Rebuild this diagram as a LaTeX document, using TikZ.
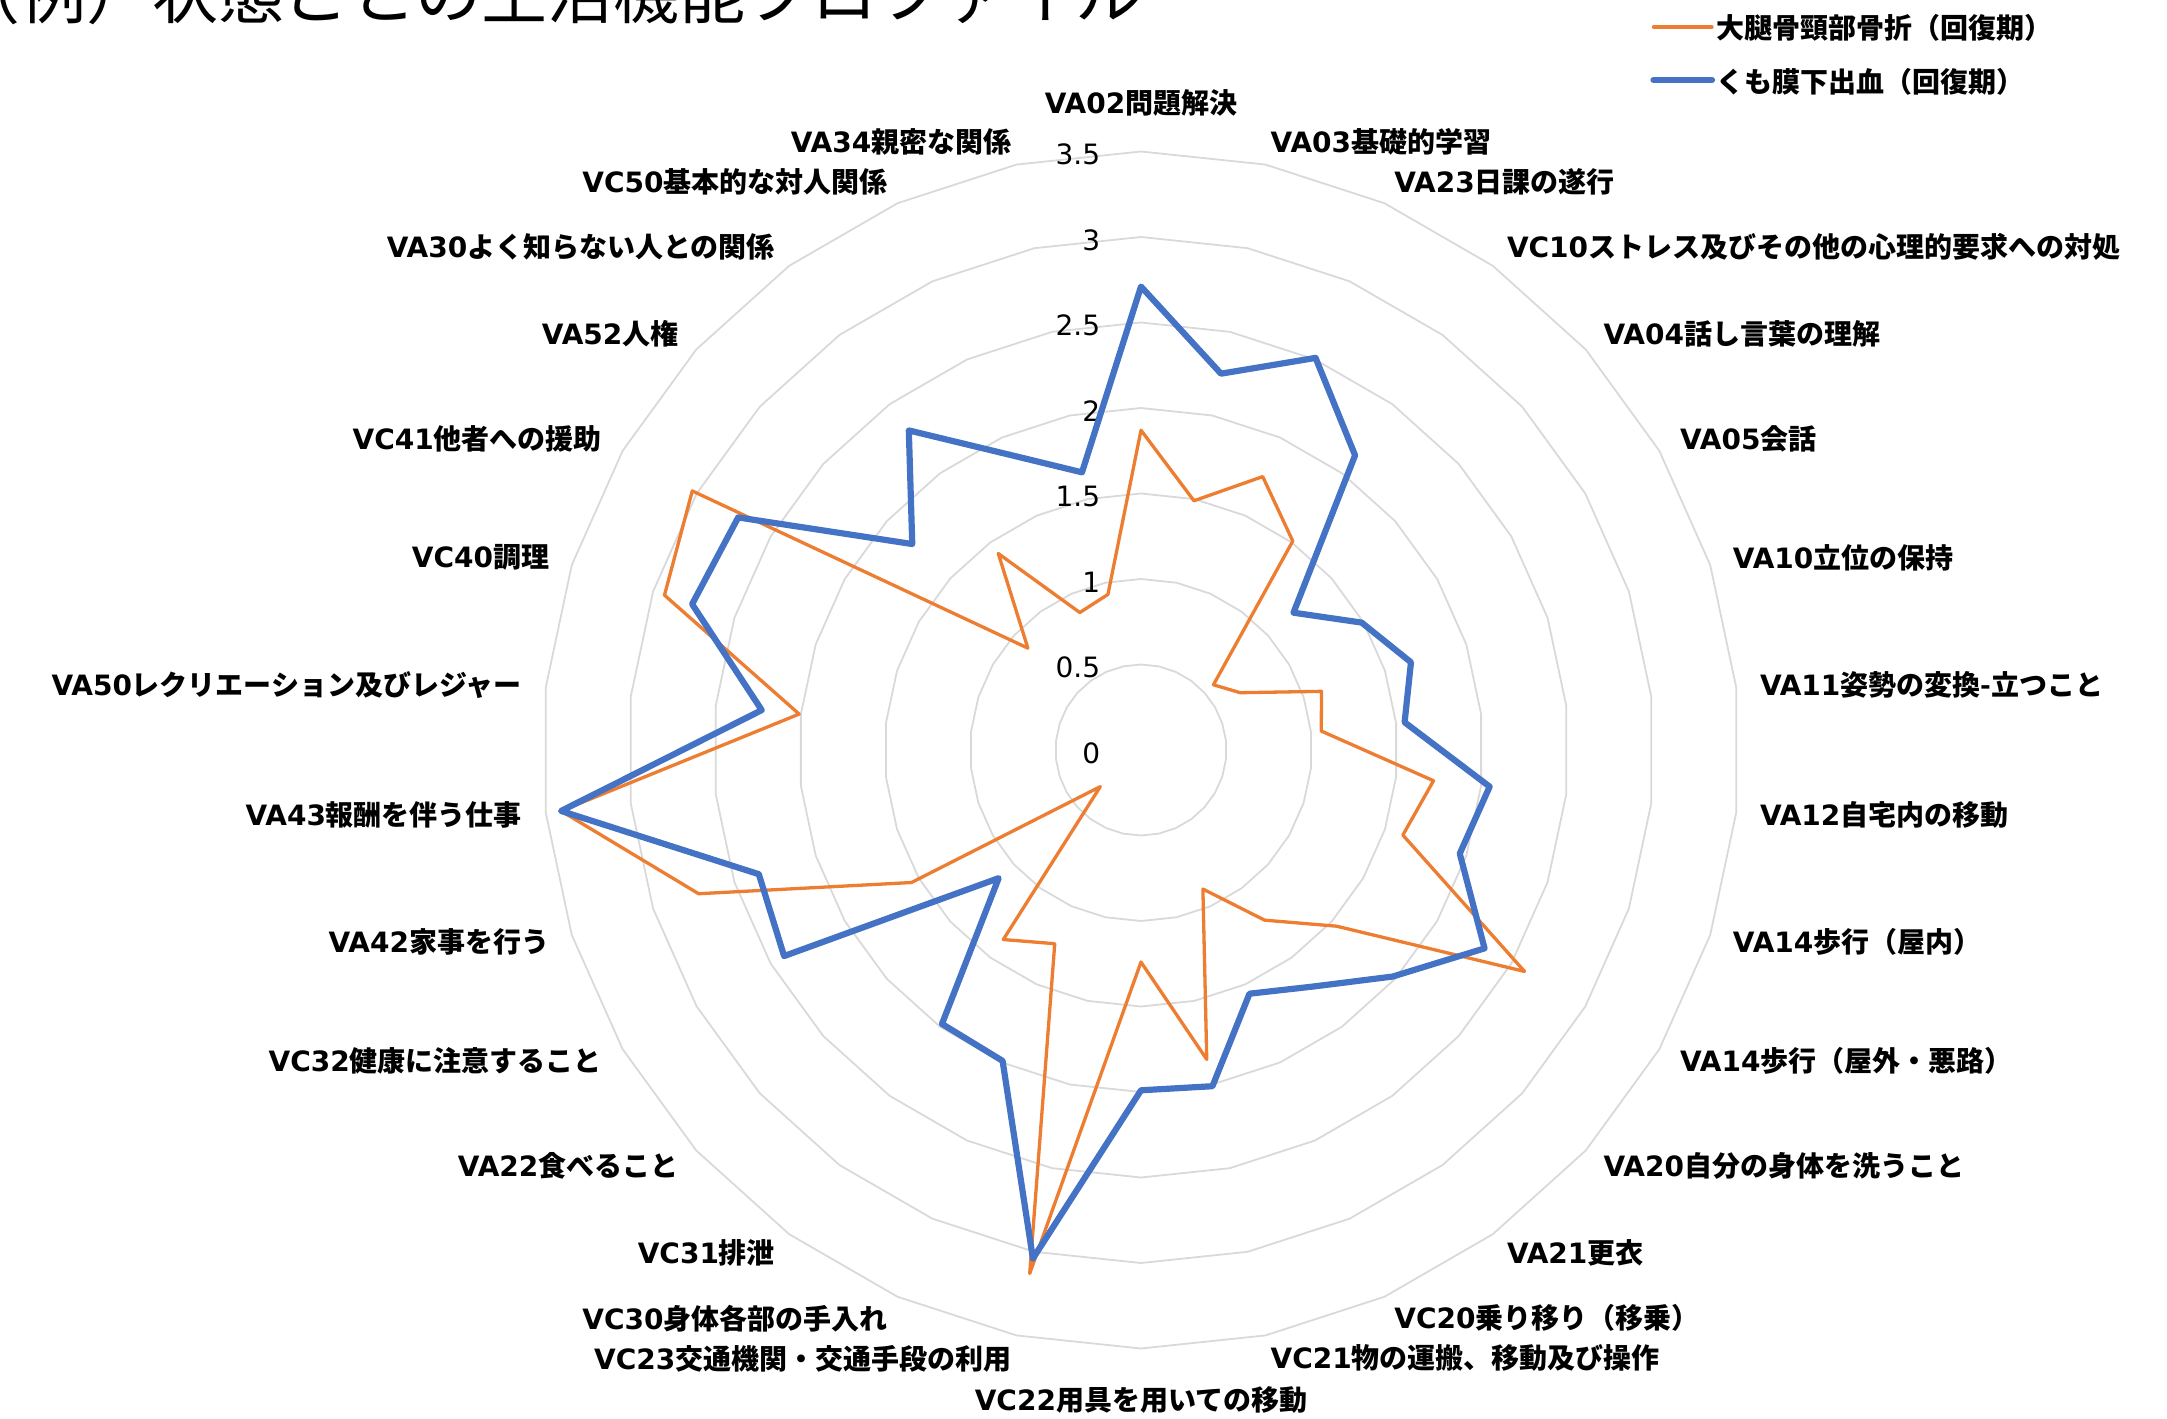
\documentclass[tikz,border=0pt]{standalone}
\usepackage{fontspec}
\setmainfont{Noto Sans CJK JP}
\newfontfamily\deja{DejaVu Sans}
\definecolor{serA}{HTML}{ED7D31}
\definecolor{serB}{HTML}{4472C4}
\definecolor{gridc}{HTML}{D9D9D9}
\newcommand\lbl[2]{{\deja #1}#2}
\tikzset{
  ringline/.style={draw=gridc, line width=0.9pt},
  orangeser/.style={draw=serA, line width=1.65pt, line join=round, line cap=round},
  blueser/.style={draw=serB, line width=3.1pt, line join=round, line cap=round},
  axlab/.style={inner sep=0pt, font=\bfseries\fontsize{14}{16}\selectfont},
  ticklab/.style={inner sep=0pt, anchor=east, font=\deja\fontsize{14}{16}\selectfont},
  titlelab/.style={inner sep=0pt, anchor=base west, font=\fontsize{33}{36}\selectfont},
}
\begin{document}
\begin{tikzpicture}
\useasboundingbox (-570.5pt,-334pt) rectangle (513pt,375pt);
% grid rings
\foreach \k in {1,...,7} {
  \draw[ringline] (90:{\k*0.5*85.5pt}) foreach \j in {1,...,29} { -- ({90-12*\j}:{\k*0.5*85.5pt}) } -- cycle;
}
% tick labels
\foreach \tv [count=\i from 0] in {0,0.5,1,1.5,2,2.5,3,3.5} {
  \node[ticklab] (t\i) at (-20.25pt, {\tv*85.5pt - 1.5pt}) {\tv};
}
% series: orange
\draw[orangeser] (90:{1.87*85.5pt}) foreach \v [count=\j] in {1.49,1.75,1.51,0.57,0.67,1.11,1.06,1.72,1.61,2.59,1.54,1.23,0.89,1.85,1.24,3.13,1.24,1.37,0.32,1.55,2.72,3.41,2.01,2.93,3.03,0.89,1.42,0.88,0.93} { -- ({90-12*\j}:{\v*85.5pt}) } -- cycle;
% series: blue
\draw[blueser] (90:{2.71*85.5pt}) foreach \v [count=\j] in {2.25,2.51,2.13,1.20,1.49,1.66,1.55,2.05,1.96,2.32,1.98,1.71,1.56,2.01,1.99,3.04,1.99,1.98,1.12,2.41,2.35,3.41,2.23,2.76,2.72,1.80,2.31,1.89,1.66} { -- ({90-12*\j}:{\v*85.5pt}) } -- cycle;
% axis labels
\node[axlab, anchor=center] (l0) at (0pt,323.5pt) {\lbl{VA02}{問題解決}};
\node[axlab, anchor=west] (l1) at (78:311pt) {\lbl{VA03}{基礎的学習}};
\node[axlab, anchor=west] (l2) at (66:311pt) {\lbl{VA23}{日課の遂行}};
\node[axlab, anchor=west] (l3) at (54:311pt) {\lbl{VC10}{ストレス及びその他の心理的要求への対処}};
\node[axlab, anchor=west] (l4) at (42:311pt) {\lbl{VA04}{話し言葉の理解}};
\node[axlab, anchor=west] (l5) at (30:311pt) {\lbl{VA05}{会話}};
\node[axlab, anchor=west] (l6) at (18:311pt) {\lbl{VA10}{立位の保持}};
\node[axlab, anchor=west] (l7) at (6:311pt) {\lbl{VA11}{姿勢の変換-立つこと}};
\node[axlab, anchor=west] (l8) at (-6:311pt) {\lbl{VA12}{自宅内の移動}};
\node[axlab, anchor=west] (l9) at (-18:311pt) {\lbl{VA14}{歩行（屋内）}};
\node[axlab, anchor=west] (l10) at (-30:311pt) {\lbl{VA14}{歩行（屋外・悪路）}};
\node[axlab, anchor=west] (l11) at (-42:311pt) {\lbl{VA20}{自分の身体を洗うこと}};
\node[axlab, anchor=west] (l12) at (-54:311pt) {\lbl{VA21}{更衣}};
\node[axlab, anchor=west] (l13) at (-66:311pt) {\lbl{VC20}{乗り移り（移乗）}};
\node[axlab, anchor=west] (l14) at (-78:311pt) {\lbl{VC21}{物の運搬、移動及び操作}};
\node[axlab, anchor=center] (l15) at (0pt,-325pt) {\lbl{VC22}{用具を用いての移動}};
\node[axlab, anchor=east] (l16) at (-102:311pt) {\lbl{VC23}{交通機関・交通手段の利用}};
\node[axlab, anchor=east] (l17) at (-114:311pt) {\lbl{VC30}{身体各部の手入れ}};
\node[axlab, anchor=east] (l18) at (-126:311pt) {\lbl{VC31}{排泄}};
\node[axlab, anchor=east] (l19) at (-138:311pt) {\lbl{VA22}{食べること}};
\node[axlab, anchor=east] (l20) at (-150:311pt) {\lbl{VC32}{健康に注意すること}};
\node[axlab, anchor=east] (l21) at (-162:311pt) {\lbl{VA42}{家事を行う}};
\node[axlab, anchor=east] (l22) at (-174:311pt) {\lbl{VA43}{報酬を伴う仕事}};
\node[axlab, anchor=east] (l23) at (174:311pt) {\lbl{VA50}{レクリエーション及びレジャー}};
\node[axlab, anchor=east] (l24) at (162:311pt) {\lbl{VC40}{調理}};
\node[axlab, anchor=east] (l25) at (150:311pt) {\lbl{VC41}{他者への援助}};
\node[axlab, anchor=east] (l26) at (138:311pt) {\lbl{VA52}{人権}};
\node[axlab, anchor=east] (l27) at (126:311pt) {\lbl{VA30}{よく知らない人との関係}};
\node[axlab, anchor=east] (l28) at (114:311pt) {\lbl{VC50}{基本的な対人関係}};
\node[axlab, anchor=east] (l29) at (102:311pt) {\lbl{VA34}{親密な関係}};
% legend
\coordinate (lga) at (256.25pt,361.5pt);
\coordinate (lgb) at (285.5pt,361.5pt);
\coordinate (lgc) at (256.25pt,335pt);
\coordinate (lgd) at (285.5pt,335pt);
\draw[orangeser] (lga) -- (lgb);
\draw[blueser] (lgc) -- (lgd);
\node[axlab, anchor=west] (lg1) at (287.5pt,360.85pt) {大腿骨頸部骨折（回復期）};
\node[axlab, anchor=west] (lg2) at (287.5pt,334.2pt) {くも膜下出血（回復期）};
% title
\node[titlelab] (title) at (-593.5pt,365.8pt) {（例）状態ごとの生活機能プロファイル};
\end{tikzpicture}
\end{document}
